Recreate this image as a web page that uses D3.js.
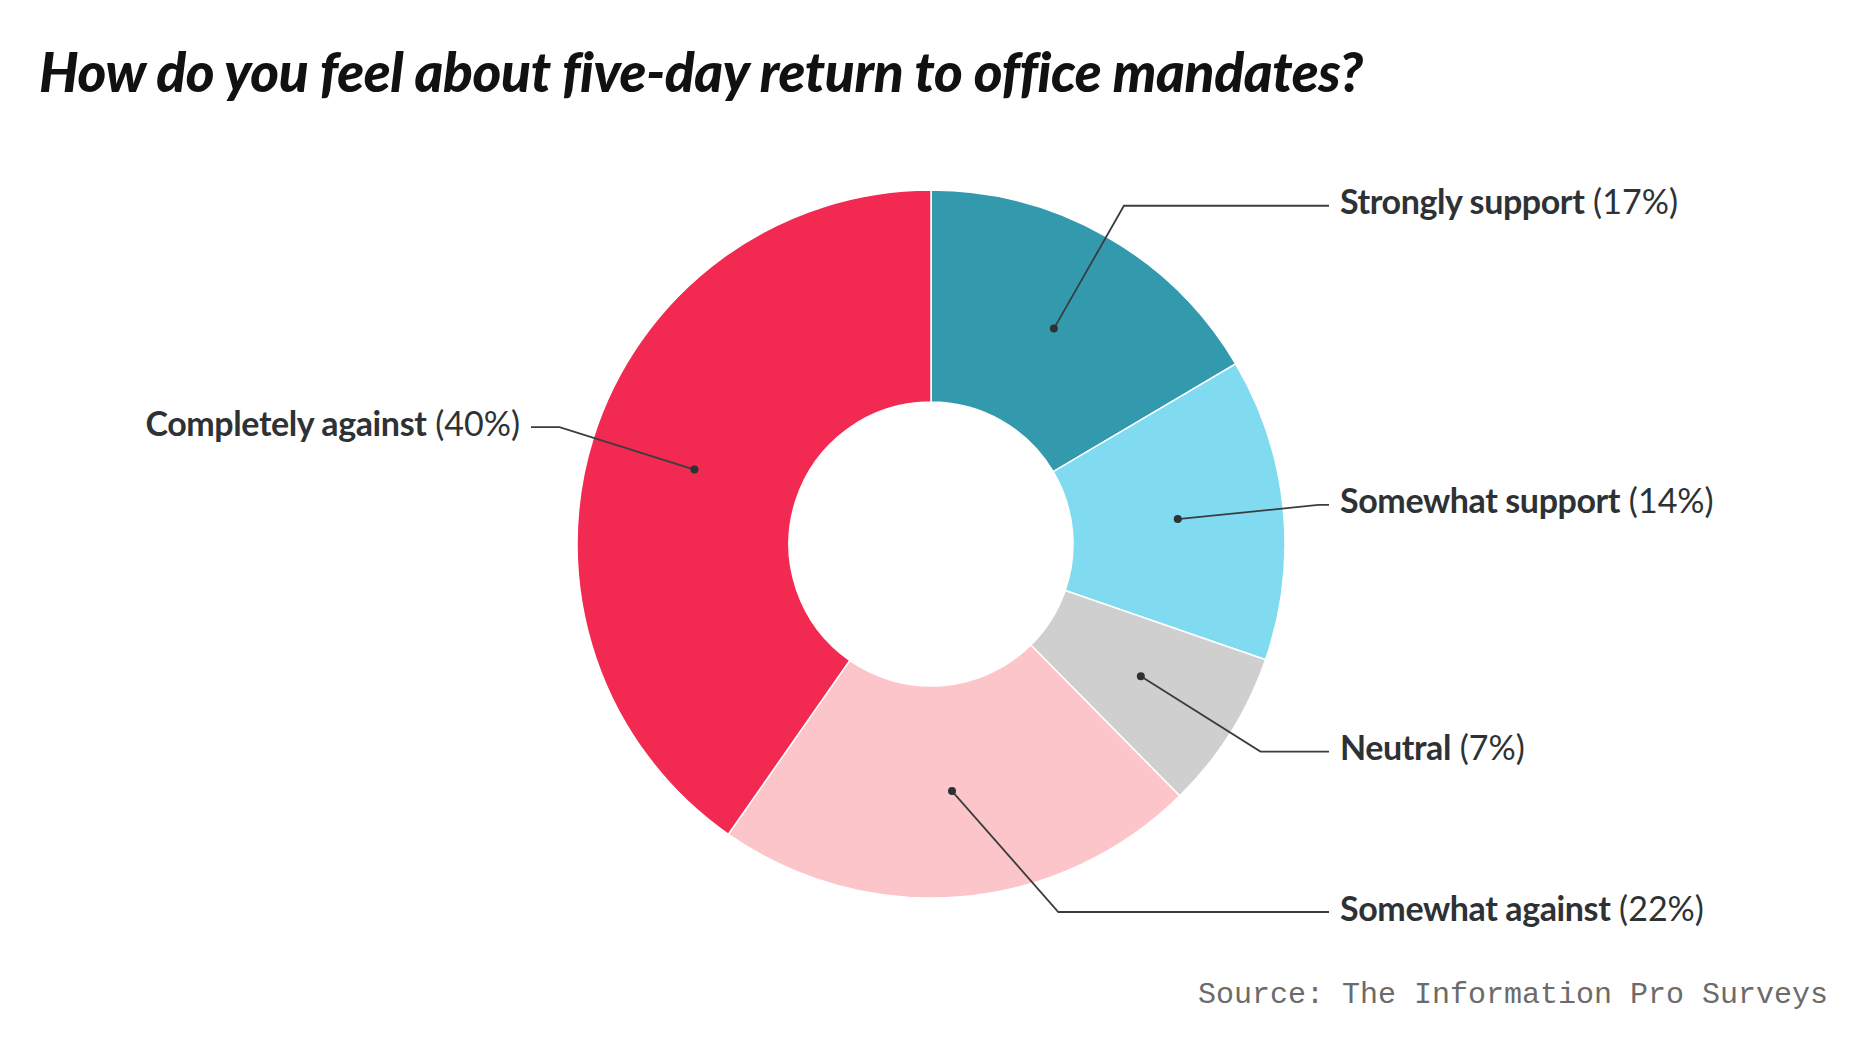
<!DOCTYPE html>
<html lang="en">

<head>
    <meta charset="UTF-8">
    <title>Five-day return to office</title>
    <script src="https://d3js.org/d3.v7.min.js"></script>
    <style>
        body {
            margin: 0;
            background: #fff;
        }

        .title {
            font-family: Lato, sans-serif;
            font-weight: 900;
            font-style: italic;
            fill: #111;
        }

        .label {
            font-family: Lato, sans-serif;
            font-size: 34px;
            fill: #2e3235;
        }

        .source {
            font-family: "Liberation Mono", monospace;
            font-size: 30px;
            fill: #6b6b6b;
        }
    </style>
</head>

<body>
    <svg width="1860" height="1046"></svg>

    <script>
        // answers, clockwise from 12 o'clock
        const answers = ["Strongly support", "Somewhat support", "Neutral", "Somewhat against", "Completely against"];
        // shares (labels show them rounded)
        const shares = [16.5, 13.8, 7.3, 22.1, 40.3];
        const colors = ["#3399ad", "#80dbf1", "#cfcfcf", "#fcc5ca", "#f22950"];

        const svg = d3.select("svg");
        const cx = 931, cy = 544;
        const outerR = 354, innerR = 142;
        const elbowR = outerR * 1.1;
        const maxDy = 368;

        svg.append("text")
            .attr("class", "title")
            .attr("x", 39)
            .attr("y", 92)
            .attr("font-size", 55)
            .attr("letter-spacing", -0.4)
            .text("How do you feel about five-day return to office mandates?");

        const data = answers.map((a, i) => ({ name: a, value: shares[i], color: colors[i] }));

        const pie = d3.pie().value(d => d.value).sort(null);
        const arc = d3.arc().innerRadius(innerR).outerRadius(outerR);
        const arcs = pie(data);

        const g = svg.append("g").attr("transform", `translate(${cx},${cy})`);

        g.selectAll("path")
            .data(arcs)
            .enter()
            .append("path")
            .attr("d", arc)
            .attr("fill", d => d.data.color)
            .attr("stroke", "#fff")
            .attr("stroke-width", 1.5);

        // leader lines + labels
        arcs.forEach(d => {
            const mid = (d.startAngle + d.endAngle) / 2;
            const [px, py] = arc.centroid(d);
            const right = Math.sin(mid) > 0;
            let ey = -Math.cos(mid) * elbowR;
            ey = Math.max(-maxDy, Math.min(maxDy, ey));
            let ex = Math.sqrt(elbowR * elbowR - ey * ey) * (right ? 1 : -1);
            const lineEnd = right ? 1329 - cx : 531 - cx;
            const textX = right ? 1340 - cx : 520 - cx;

            g.append("polyline")
                .attr("points", [[px, py], [ex, ey], [lineEnd, ey]].map(p => p.join(",")).join(" "))
                .attr("fill", "none")
                .attr("stroke", "#3a3d40")
                .attr("stroke-width", 1.8);

            g.append("circle")
                .attr("cx", px)
                .attr("cy", py)
                .attr("r", 4)
                .attr("fill", "#2e3235");

            const t = g.append("text")
                .attr("class", "label")
                .attr("x", textX)
                .attr("y", ey)
                .attr("dy", "0.25em")
                .attr("text-anchor", right ? "start" : "end");
            t.append("tspan").attr("font-weight", 700).attr("letter-spacing", -0.4).text(d.data.name);
            t.append("tspan").attr("font-weight", 400).text(` (${Math.round(d.data.value)}%)`);
        });

        svg.append("text")
            .attr("class", "source")
            .attr("x", 1828)
            .attr("y", 1003)
            .attr("text-anchor", "end")
            .text("Source: The Information Pro Surveys");
    </script>
</body>

</html>
